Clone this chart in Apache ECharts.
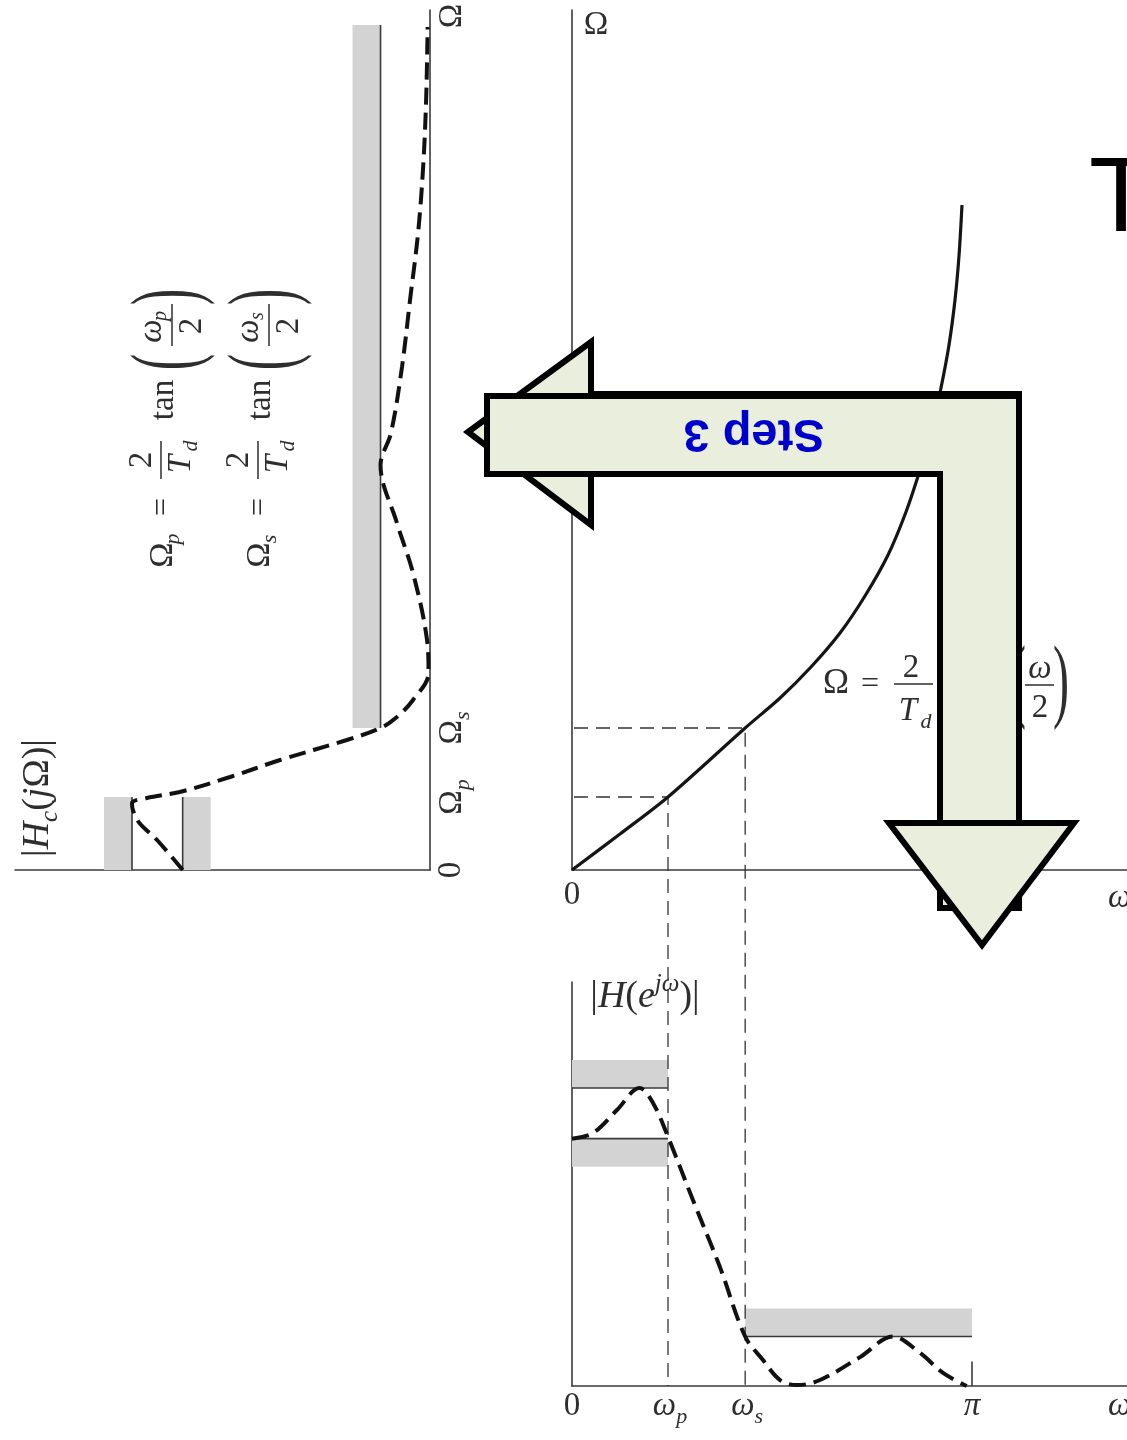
<!DOCTYPE html>
<html>
<head>
<meta charset="utf-8">
<script src="https://cdn.jsdelivr.net/npm/echarts@6/dist/echarts.min.js"></script>
<style>
  html, body { margin: 0; padding: 0; background: #ffffff; }
  #chart { width: 1127px; height: 1440px; }
</style>
</head>
<body>
<div id="chart"></div>
<script>
// ---------- values ----------
// band edges of the discrete filter (rad) and of the prototype (warped)
const omegaP = 0.754, omegaS = 1.36, omegaPi = Math.PI;
const OmegaP = 0.73, OmegaS = 1.42, OmegaTol = 8.45;
// tolerance scheme (magnitude)
const passUpper = 1.0, passLower = 0.83, stopLevel = 0.166, bandDepth = 0.094, piTick = 0.082;

// frequency warping Ω = (2/Td) tan(ω/2)
const warpOmega  = [0, 0.377, 0.754, 1.36, 1.634, 1.877, 2.105, 2.301, 2.482, 2.623, 2.733, 2.828, 2.898, 2.961, 3.008, 3.040, 3.063];
const warpOmegaC = [0, 0.36, 0.73, 1.42, 1.72, 2.03, 2.37, 2.74, 3.15, 3.58, 4.00, 4.42, 4.82, 5.25, 5.70, 6.15, 6.65];

// |Hc(jΩ)| of the continuous-time prototype
const hcOmega = [0, 0.30, 0.47, 0.60, 0.67, 0.72, 0.78, 0.93, 1.10, 1.30, 1.42, 1.53, 1.70, 1.97, 2.30, 2.97, 3.47, 4.05, 4.37, 5.03, 5.70, 6.37, 7.03, 7.70, 8.43];
const hcMag   = [0.83, 0.916, 0.975, 0.997, 1.0, 0.95, 0.84, 0.671, 0.503, 0.279, 0.166, 0.111, 0.057, 0.005, 0.010, 0.057, 0.111, 0.166, 0.131, 0.094, 0.067, 0.040, 0.023, 0.013, 0.008];

// |H(e^jω)| of the discrete-time filter
const hdOmega = [0, 0.165, 0.353, 0.53, 0.636, 0.754, 0.950, 1.162, 1.36, 1.50, 1.634, 1.767, 1.948, 2.262, 2.521, 2.733, 2.914, 3.10];
const hdMag   = [0.83, 0.849, 0.926, 1.0, 0.950, 0.836, 0.624, 0.399, 0.166, 0.087, 0.020, 0.003, 0.02, 0.097, 0.166, 0.111, 0.044, 0.0];

// ---------- layout ----------
const MAG_PX = 298;            // px per magnitude unit
const OM_PX = 100;             // px per Ω unit
const W_PX = 400 / Math.PI;    // px per rad of ω
const LEFT = { left: 15, top: 10, width: 415, height: 860 };
const MID  = { left: 572, top: 10, width: 555, height: 860 };
const BOT  = { left: 572, top: 982, width: 555, height: 404 };
const GUIDE_LEFT_X = 90;

const INK = '#2e2e2e', AX = '#3a3a3a', GRAY = '#d3d3d3';
const SERIF = '"Liberation Serif", "Times New Roman", serif';

const zip = (a, b) => a.map((v, i) => [v, b[i]]);

function seg(gi, data, opt) {
  opt = opt || {};
  return {
    type: 'line', xAxisIndex: gi, yAxisIndex: gi, data: data, symbol: 'none',
    silent: true, clip: false, z: opt.z || 3, smooth: opt.smooth || false,
    lineStyle: { color: opt.color || AX, width: opt.width || 1.6, type: opt.dash || 'solid', cap: 'butt' }
  };
}
function bands(gi, areas) {
  return {
    type: 'line', xAxisIndex: gi, yAxisIndex: gi, data: [[0, 0]], symbol: 'none', silent: true, z: 1,
    lineStyle: { width: 0, opacity: 0 },
    markArea: {
      silent: true, itemStyle: { color: GRAY }, label: { show: false },
      data: areas.map(a => [{ coord: a[0] }, { coord: a[1] }])
    }
  };
}
function axisBase(extra) {
  return Object.assign({
    type: 'value',
    axisLine: { show: true, onZero: false, lineStyle: { color: AX, width: 1.6 } },
    axisTick: { show: false }, axisLabel: { show: false }, splitLine: { show: false }
  }, extra);
}

const GUIDE = [14, 8];
const CURVE = [17, 8];
const guideStart = -(MID.left - GUIDE_LEFT_X) / W_PX;
const guideFloor = -((BOT.top + BOT.height) - (MID.top + MID.height)) / OM_PX;

const option = {
  animation: false,
  backgroundColor: '#ffffff',
  grid: [LEFT, MID, BOT].map(g => Object.assign({ containLabel: false }, g)),
  xAxis: [
    axisBase({ gridIndex: 0, min: 0, max: LEFT.width / MAG_PX, inverse: true }),
    axisBase({ gridIndex: 1, min: 0, max: MID.width / W_PX }),
    axisBase({ gridIndex: 2, min: 0, max: BOT.width / W_PX })
  ],
  yAxis: [
    axisBase({ gridIndex: 0, min: 0, max: LEFT.height / OM_PX, position: 'right' }),
    axisBase({ gridIndex: 1, min: 0, max: MID.height / OM_PX }),
    axisBase({ gridIndex: 2, min: 0, max: BOT.height / MAG_PX })
  ],
  series: [
    // prototype panel (magnitude grows to the left, Ω upward)
    bands(0, [
      [[passUpper, 0], [passUpper + bandDepth, OmegaP]],
      [[passLower - bandDepth, 0], [passLower, OmegaP]],
      [[stopLevel, OmegaS], [stopLevel + bandDepth, OmegaTol]]
    ]),
    seg(0, [[passUpper, 0], [passUpper, OmegaP]]),
    seg(0, [[passLower, 0], [passLower, OmegaP]]),
    seg(0, [[stopLevel, OmegaS], [stopLevel, OmegaTol]]),
    seg(0, zip(hcMag, hcOmega), { color: '#111', width: 4, dash: CURVE, smooth: 0.35, z: 5 }),

    // warping panel
    seg(1, [[guideStart, OmegaP], [omegaP, OmegaP], [omegaP, guideFloor]], { width: 1.3, dash: GUIDE, color: '#333', z: 2 }),
    seg(1, [[guideStart, OmegaS], [omegaS, OmegaS], [omegaS, guideFloor]], { width: 1.3, dash: GUIDE, color: '#333', z: 2 }),
    seg(1, zip(warpOmega, warpOmegaC), { color: '#151515', width: 3.2, smooth: 0.3, z: 5 }),

    // discrete-time panel
    bands(2, [
      [[0, passUpper], [omegaP, passUpper + bandDepth]],
      [[0, passLower - bandDepth], [omegaP, passLower]],
      [[omegaS, stopLevel], [omegaPi, stopLevel + bandDepth]]
    ]),
    seg(2, [[0, passUpper], [omegaP, passUpper]]),
    seg(2, [[0, passLower], [omegaP, passLower]]),
    seg(2, [[omegaS, stopLevel], [omegaPi, stopLevel]]),
    seg(2, [[omegaPi, 0], [omegaPi, piTick]]),
    seg(2, zip(hdOmega, hdMag), { color: '#111', width: 4, dash: CURVE, smooth: 0.35, z: 5 })
  ]
};

const chart = echarts.init(document.getElementById('chart'), null, { renderer: 'canvas' });
chart.setOption(option);

// ---------- text, formulas and the step arrow ----------
const toPx = (g, pt) => chart.convertToPixel({ gridIndex: g }, pt);

function richSet(main, sub, lh) {
  return {
    r:   { fontSize: main, fontFamily: SERIF, fill: INK, lineHeight: lh },
    i:   { fontSize: main, fontFamily: SERIF, fontStyle: 'italic', fill: INK, lineHeight: lh },
    sub: { fontSize: sub, fontFamily: SERIF, fontStyle: 'italic', fill: INK, verticalAlign: 'bottom' },
    sup: { fontSize: sub, fontFamily: SERIF, fontStyle: 'italic', fill: INK, verticalAlign: 'top' }
  };
}
const TICK = richSet(33, 22, 44);
const TITLE = richSet(38, 25, 50);

function label(x, y, text, rich, extra, align) {
  return Object.assign({
    type: 'text', x: x, y: y, z: 50, silent: true,
    style: { text: text, rich: rich, align: align || 'center', verticalAlign: 'middle' }
  }, extra || {});
}
function t(x, y, str, size, italic, extra) {
  return Object.assign({
    type: 'text', x: x, y: y, silent: true,
    style: { text: str, fontSize: size, fontFamily: SERIF, fontStyle: italic ? 'italic' : 'normal',
             fill: INK, align: 'center', verticalAlign: 'middle' }
  }, extra || {});
}
function bar(x1, y1, x2, y2) {
  return { type: 'line', silent: true, shape: { x1: x1, y1: y1, x2: x2, y2: y2 }, style: { stroke: INK, lineWidth: 1.5 } };
}
function paren(x, y, ch) { return t(x, y, ch, 48, false, { scaleY: 1.95 }); }

// Ωp / Ωs = (2/Td) tan(ω/2), written bottom-to-top
function edgeFormula(gx, sub) {
  return {
    type: 'group', x: gx, y: 570, rotation: Math.PI / 2, z: 40, children: [
      t(15, -3, 'Ω', 34), t(31, 7, sub, 22, true), t(63, -3, '=', 32),
      t(110, -24, '2', 33), bar(91, -5, 129, -5), t(106, 15, 'T', 33, true), t(124, 25, 'd', 22, true),
      t(170, -2, 'tan', 33),
      paren(208, 4, '('), t(239, -14, 'ω', 33, true), t(254, -5, sub, 20, true),
      bar(224, 6, 266, 6), t(244, 26, '2', 33), paren(273, 4, ')')
    ]
  };
}

const rot = { rotation: Math.PI / 2 };
const y0L = toPx(0, [0, 0])[1];
const yPL = toPx(0, [0, OmegaP])[1];
const ySL = toPx(0, [0, OmegaS])[1];
const baseY = toPx(2, [0, 0])[1];
const tickY = baseY + 20;

const ARROW = { fill: '#eaeedc', stroke: '#000', lineWidth: 6, lineJoin: 'miter' };

const elements = [
  // prototype panel labels
  label(451, y0L, '{r|0}', TICK, rot),
  label(452, yPL, '{r|Ω}{sub|p}', TICK, rot),
  label(452, ySL, '{r|Ω}{sub|s}', TICK, rot),
  label(452, 16, '{r|Ω}', TICK, rot),
  label(38, 798, '{r||}{i|H}{sub|c}{r|(}{i|j}{r|Ω)|}', TITLE, rot),
  edgeFormula(166, 'p'),
  edgeFormula(263, 's'),

  // warping panel labels
  label(596, 25, '{r|Ω}', TICK),
  label(toPx(1, [0, 0])[0], 895, '{r|0}', TICK),
  label(1108, 898, '{i|ω}', TICK, null, 'left'),
  t(836, 684, 'Ω', 35), t(870, 685, '=', 32),
  t(911, 668, '2', 33), bar(894, 684, 933, 684), t(908, 711, 'T', 33, true), t(926, 722, 'd', 22, true),
  t(978, 684, 'tan', 33),
  paren(1018, 685, '('), t(1040, 669, 'ω', 33, true), bar(1025, 685, 1054, 685), t(1040, 708, '2', 33),
  paren(1061, 685, ')'),

  // discrete-time panel labels
  label(645, 997, '{r||}{i|H}{r|(}{i|e}{sup|jω}{r|)|}', TITLE),
  label(toPx(2, [0, 0])[0], tickY, '{r|0}', TICK),
  label(toPx(2, [omegaP, 0])[0] + 2, tickY, '{i|ω}{sub|p}', TICK),
  label(toPx(2, [omegaS, 0])[0] + 2, tickY, '{i|ω}{sub|s}', TICK),
  label(toPx(2, [omegaPi, 0])[0], tickY, '{i|π}', TICK),
  label(1108, tickY, '{i|ω}', TICK, null, 'left'),

  // step arrow
  { type: 'polygon', z: 100, silent: true, shape: { points: [[468, 432], [591, 342], [591, 525]] }, style: ARROW },
  { type: 'polygon', z: 101, silent: true,
    shape: { points: [[487, 396], [1019, 396], [1019, 908], [940, 908], [940, 474], [487, 474]] }, style: ARROW },
  { type: 'rect', z: 101, silent: true, shape: { x: 591, y: 391, width: 431, height: 4 }, style: { fill: '#000' } },
  { type: 'polygon', z: 102, silent: true, shape: { points: [[889, 823], [1074, 823], [982, 945]] }, style: ARROW },
  { type: 'text', z: 103, silent: true, x: 754, y: 433, rotation: Math.PI,
    style: { text: 'Step 3', font: 'bold 47px "Liberation Sans", Arial, sans-serif', fill: '#0000cc',
             align: 'center', verticalAlign: 'middle' } },

  // slide title (runs off the page)
  { type: 'text', z: 60, silent: true, x: 1089, y: 202,
    style: { text: 'T', font: '105px "Liberation Sans", Arial, sans-serif', fill: '#000',
             align: 'left', verticalAlign: 'middle' } }
];

chart.setOption({ graphic: { elements: elements } });
</script>
</body>
</html>
